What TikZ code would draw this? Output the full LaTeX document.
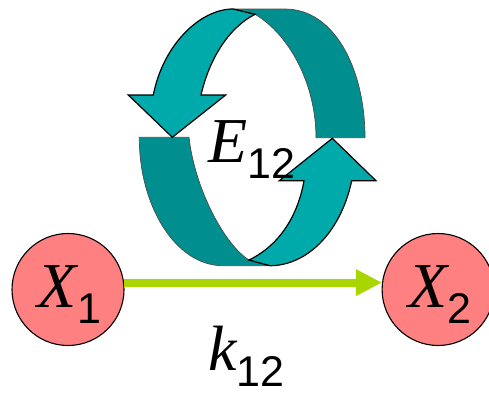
\documentclass[tikz,border=0pt]{standalone}
\usepackage{fontspec}
\setmainfont{Liberation Serif}
\newfontfamily\subsfont{Liberation Sans}
\usetikzlibrary{arrows.meta,positioning}
\definecolor{loopbright}{HTML}{00AAAA}
\definecolor{loopdark}{HTML}{008E8E}
\definecolor{poolred}{HTML}{FF8080}
\definecolor{rategreen}{HTML}{A9D600}
\newcommand{\subsym}[2]{{\fontsize{64}{64}\selectfont\itshape #1}\raisebox{-16pt}[0pt][0pt]{\fontsize{43}{43}\selectfont\subsfont #2}}

\begin{document}
\begin{tikzpicture}[
  x=1pt, y=-1pt,
  pool/.style={circle, draw=black, line width=1.1pt, fill=poolred, inner sep=0pt,
               minimum size=112pt, text height=51pt, text depth=16pt},
  rate/.style={-{Triangle[length=26pt,width=25pt]}, rategreen, line width=8pt},
  bandback/.style={draw=black!70, line width=0.7pt, fill=loopdark, line join=round},
  bandfront/.style={draw=black, line width=1.2pt, fill=loopbright, line join=miter},
  sym/.style={inner sep=0pt, anchor=base west},
]
  \useasboundingbox (0,0) rectangle (489,392);

  %% -- dark parts of the loop --
  \path[bandback] (233,9) -- (285,9) .. controls (335,9) and (365,70) .. (365,137.7)
    -- (316,137.7) .. controls (316,85) and (290,35) .. (255,14.3) -- cycle;
  \path[bandback] (139.3,137.3) .. controls (139,205) and (175,265.7) .. (223,265.7)
    -- (268,265.7) -- (249,260) .. controls (225,245) and (195,190) .. (189,137.3) -- cycle;

  %% -- bright arrows of the loop --
  \path[bandfront] (172.3,137.3) -- (128.3,95) -- (153.3,95)
    .. controls (163,45) and (200,9) .. (233,9) -- (255,14.3)
    .. controls (228,28) and (209,60) .. (201,95) -- (225.7,95) -- cycle;
  \path[bandfront] (332.3,138.3) -- (376,180.7) -- (351.7,180.7)
    .. controls (340,235) and (305,265.7) .. (270,265.7) -- (249,260)
    .. controls (280,245) and (298,215) .. (304,180.7) -- (279.3,180.7) -- cycle;

  %% -- pools --
  \node[pool] (x1) at (68,289.5) {\kern3pt\subsym{X}{1}};
  \node[pool, right=257pt of x1] (x2) {\kern3pt\subsym{X}{2}};

  %% -- transfer between the pools --
  \draw[rate] (x1.7) -- (x2.173);

  %% -- labels --
  \node[sym] (e12) at (208,162) {\subsym{E}{12}};
  \node[sym] (k12) at (208,370) {\subsym{k}{12}};
\end{tikzpicture}
\end{document}
